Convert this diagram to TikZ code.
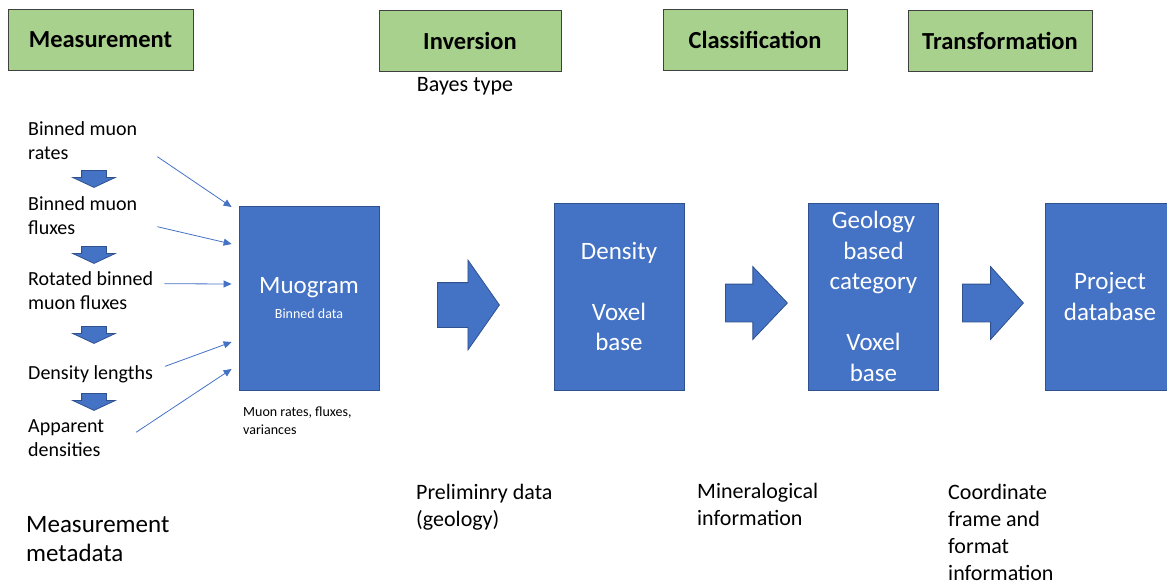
\documentclass[tikz,border=0pt]{standalone}
\usepackage{fontspec}
\setmainfont{Carlito}
\usetikzlibrary{arrows.meta, positioning, shapes.arrows}
\definecolor{muonblue}{RGB}{68,114,196}
\definecolor{muonedge}{RGB}{47,82,143}
\definecolor{stagegreen}{RGB}{169,209,142}
\newcommand{\fs}[2]{\fontsize{#1}{#2}\selectfont}

\begin{document}
\begin{tikzpicture}[
    x=1pt, y=-1pt,
    stage/.style={rectangle, draw=black!75, thick, fill=stagegreen,
                  minimum height=61pt, font=\fs{24.5}{29}\bfseries},
    datablock/.style={rectangle, draw=muonedge, thick, fill=muonblue, text=white,
                  minimum width=130pt, minimum height=187pt, align=center,
                  font=\fs{25}{30.5}},
    note/.style={anchor=north west, align=left, inner sep=0pt, font=\fs{20}{24}},
    caption/.style={anchor=north west, align=left, inner sep=0pt, font=\fs{22}{27}},
    bigarrow/.style={single arrow, draw=muonedge, thick, fill=muonblue,
                  inner xsep=0pt, minimum width=0pt, single arrow head indent=0pt,
                  anchor=tail},
    downarrow/.style={bigarrow, rotate=-90, inner ysep=12pt,
                  single arrow head extend=9pt, single arrow tip angle=130,
                  minimum height=17pt},
    feed/.style={-{Triangle[length=8pt, width=7pt]}, line width=0.8pt, muonblue},
]
    \clip (0,0) rectangle (1167,586);

    % Stage headers
    \node[stage, minimum width=185pt] (measure) at (100.5,39.5) {Measurement};
    \node[stage, minimum width=182pt] (invert) at (470,40.5) {Inversion};
    \node[stage, minimum width=184pt] (classify) at (755,39.5) {Classification};
    \node[stage, minimum width=184pt] (transform) at (1000,40.5) {Transformation};
    \node[font=\fs{22}{26}] (bayes) at (465,86) {Bayes type};

    % Measurement chain
    \node[note] (rates) at (28,121) {Binned muon\\rates};
    \node[note] (fluxes) at (28,196) {Binned muon\\fluxes};
    \node[note] (rotated) at (28,271) {Rotated binned\\muon fluxes};
    \node[note] (lengths) at (28,365) {Density lengths};
    \node[note] (apparent) at (28,419) {Apparent\\densities};
    \foreach \y [count=\i] in {170,246,326,393}
        \node[downarrow] (down\i) at (94,\y) {};

    % Data blocks
    \node[datablock, minimum width=140pt, minimum height=184pt] (muogram) at (309,298)
        {Muogram\\[-6pt]{\fs{14}{17}Binned data}};
    \node[datablock] (density) at (619,296.5) {Density\\[30.5pt]Voxel\\base};
    \node[datablock] (geology) at (873.5,296.5) {Geology\\based\\category\\[30.5pt]Voxel\\base};
    \node[datablock] (project) at (1110,296.5) {Project\\database};

    % Block arrows
    \node[bigarrow, inner ysep=22pt, single arrow head extend=22.5pt,
          single arrow tip angle=110, minimum height=62pt] (invarrow) at (437,305) {};
    \node[bigarrow, inner ysep=18.5pt, single arrow head extend=17.5pt,
          single arrow tip angle=93, minimum height=62pt] (clsarrow) at (725,303) {};
    \node[bigarrow, inner ysep=18.5pt, single arrow head extend=17.5pt,
          single arrow tip angle=96, minimum height=61pt] (trfarrow) at (962,303) {};

    % Feeds into the muogram
    \draw[feed] ([xshift=20pt, yshift=-16.5pt]rates.east) -- ([xshift=-7pt, yshift=91pt]muogram.west);
    \draw[feed] ([xshift=20pt, yshift=-11.5pt]fluxes.east) -- ([xshift=-7pt, yshift=54pt]muogram.west);
    \draw[feed] ([xshift=11pt, yshift=6.5pt]rotated.east) -- ([xshift=-7pt, yshift=14pt]muogram.west);
    \draw[feed] ([xshift=12pt, yshift=7.5pt]lengths.east) -- ([xshift=-7pt, yshift=-44pt]muogram.west);
    \draw[feed] ([xshift=32pt, yshift=5.5pt]apparent.east) -- ([xshift=-7pt, yshift=-71pt]muogram.west);

    % Captions
    \node[note, font=\fs{14}{18}] (muoninfo) at (243,407) {Muon rates, fluxes,\\variances};
    \node[caption] (prelim) at (416,484) {Preliminry data\\(geology)};
    \node[caption] (mineral) at (697,483) {Mineralogical\\information};
    \node[caption] (coord) at (948,484) {Coordinate\\frame and\\format\\information};
    \node[caption, font=\fs{25}{29}] (metadata) at (26,516) {Measurement\\metadata};
\end{tikzpicture}
\end{document}
